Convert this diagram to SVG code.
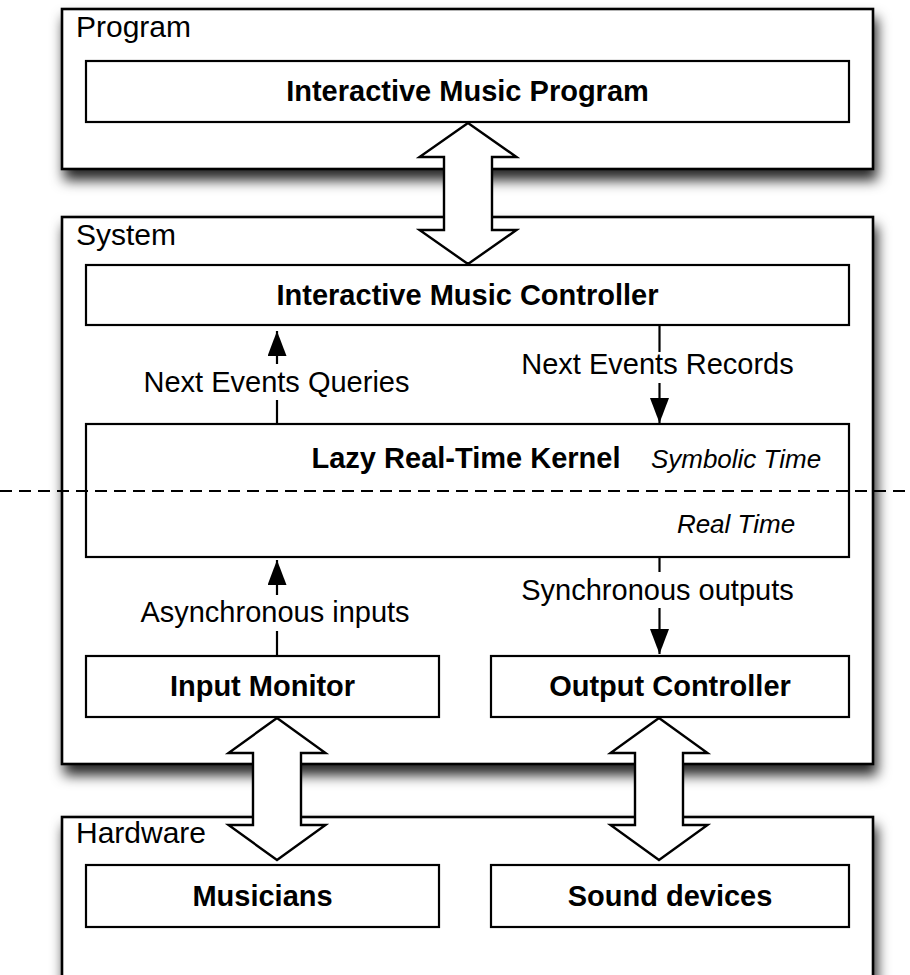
<svg xmlns="http://www.w3.org/2000/svg" width="910" height="975" viewBox="0 0 910 975">
<defs>
<filter id="sh" x="-10%" y="-20%" width="125%" height="150%">
<feDropShadow dx="3" dy="10" stdDeviation="6.5" flood-color="#000" flood-opacity="0.85"/>
</filter>
<marker id="ah" markerUnits="userSpaceOnUse" markerWidth="25" markerHeight="19" refX="25" refY="9.5" orient="auto">
<path d="M0,0 L25,9.5 L0,19 Z" fill="#000"/>
</marker>
<style>
.outer{fill:#fff;stroke:#000;stroke-width:2.6}
.inner{fill:#fff;stroke:#000;stroke-width:2.2}
.t{font-family:"Liberation Sans",Arial,Helvetica,sans-serif;fill:#000}
.lbl{font-size:30px}
.b{font-size:29px;font-weight:bold;text-anchor:middle}
.c{font-size:29px;text-anchor:middle}
.i{font-size:26px;font-style:italic;text-anchor:middle}
.ln{stroke:#000;stroke-width:2.2;fill:none}
.dbl{fill:#fff;stroke:#000;stroke-width:2.4;stroke-linejoin:miter}
</style>
</defs>
<rect width="910" height="975" fill="#fff"/>

<g id="program">
<rect class="outer" x="62" y="9" width="811" height="160" filter="url(#sh)"/>
<text class="t lbl" x="76" y="37">Program</text>
</g>
<g id="system">
<rect class="outer" x="62" y="217" width="811" height="547" filter="url(#sh)"/>
<text class="t lbl" x="76" y="245">System</text>
</g>
<g id="hardware">
<rect class="outer" x="62" y="817" width="811" height="200" filter="url(#sh)"/>
<text class="t lbl" x="76" y="843">Hardware</text>
</g>

<g id="imp">
<rect class="inner" x="86" y="61" width="763" height="61"/>
<text class="t b" x="467.5" y="101">Interactive Music Program</text>
</g>
<g id="imc">
<rect class="inner" x="86" y="265" width="763" height="60"/>
<text class="t b" x="467.5" y="305">Interactive Music Controller</text>
</g>
<g id="kernel">
<rect class="inner" x="86" y="424" width="763" height="133"/>
<text class="t b" x="466" y="468">Lazy Real-Time Kernel</text>
<text class="t i" x="736" y="468">Symbolic Time</text>
<text class="t i" x="736" y="533">Real Time</text>
</g>
<g id="input-monitor">
<rect class="inner" x="86" y="656" width="353" height="61"/>
<text class="t b" x="262.5" y="696">Input Monitor</text>
</g>
<g id="output-controller">
<rect class="inner" x="491" y="656" width="358" height="61"/>
<text class="t b" x="670" y="696">Output Controller</text>
</g>
<g id="musicians">
<rect class="inner" x="86" y="865" width="353" height="62"/>
<text class="t b" x="262.5" y="906">Musicians</text>
</g>
<g id="sound-devices">
<rect class="inner" x="491" y="865" width="358" height="62"/>
<text class="t b" x="670" y="906">Sound devices</text>
</g>

<g id="connectors">
<line class="ln" x1="277" y1="424" x2="277" y2="400"/>
<line class="ln" x1="277" y1="364" x2="277" y2="331" marker-end="url(#ah)"/>
<text class="t c" x="276.5" y="392">Next Events Queries</text>

<line class="ln" x1="659.5" y1="326" x2="659.5" y2="352"/>
<line class="ln" x1="659.5" y1="383" x2="659.5" y2="423" marker-end="url(#ah)"/>
<text class="t c" x="657.5" y="374">Next Events Records</text>

<line class="ln" x1="277" y1="656" x2="277" y2="631"/>
<line class="ln" x1="277" y1="595" x2="277" y2="560" marker-end="url(#ah)"/>
<text class="t c" x="275" y="622">Asynchronous inputs</text>

<line class="ln" x1="659.5" y1="558" x2="659.5" y2="572"/>
<line class="ln" x1="659.5" y1="608" x2="659.5" y2="654" marker-end="url(#ah)"/>
<text class="t c" x="657.5" y="600">Synchronous outputs</text>

<polygon class="dbl" points="468,123 516.5,157 492,157 492,230 516.5,230 468,264 419.5,230 444,230 444,157 419.5,157"/>
<polygon class="dbl" points="277,718 325.5,753 301,753 301,825 325.5,825 277,860 228.5,825 253,825 253,753 228.5,753"/>
<polygon class="dbl" points="659,718 707.5,753 683,753 683,825 707.5,825 659,860 610.5,825 635,825 635,753 610.5,753"/>

<line x1="0" y1="491" x2="910" y2="491" stroke="#000" stroke-width="2.2" stroke-dasharray="12 7"/>
</g>
</svg>
